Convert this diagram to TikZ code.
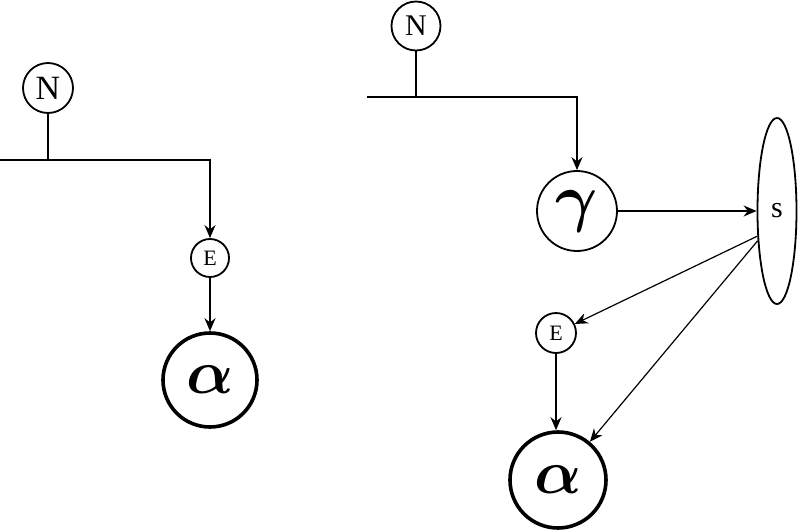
\documentclass[tikz,border=0pt]{standalone}
\usepackage{fontspec}
\usepackage{amsmath}
\setmainfont{Liberation Serif}
\usetikzlibrary{arrows.meta,shapes.geometric}
\tikzset{
  var/.style={circle,draw,inner sep=0pt,line width=0.9pt},
  big/.style={circle,draw,inner sep=0pt,line width=1.8pt,minimum size=48pt},
  >={Stealth[length=6.5pt,width=5.5pt]}
}
\newcommand{\fs}[1]{\fontsize{#1}{#1}\selectfont}
\newcommand{\grk}[2]{\scalebox{#1}{$\boldsymbol{#2}$}}
\begin{document}
\begin{tikzpicture}[x=0.5pt,y=-0.5pt,line width=0.9pt]
\useasboundingbox (0,0) rectangle (800,531);
% left model
\node[var,minimum size=25pt,font=\fs{17}] (nL) at (48,88) {N};
\coordinate (barL) at (0,160);
\node[var,minimum size=19pt,font=\fs{11}] (eL) at (210,258) {E};
\node[big,minimum size=47pt,font=\fs{30}] (aL) at (210,380) {\grk{1.25}{\alpha}};
\draw (nL) -- (nL |- barL);
\draw[->] (barL) -| (eL);
\draw[->] (eL) -- (aL);
% right model
\node[var,minimum size=24.5pt,font=\fs{15}] (nR) at (416,26) {N};
\coordinate (barR) at (367,97);
\node[var,minimum size=40pt,font=\fs{30}] (g) at (577,211) {\grk{1.3}{\gamma}};
\node[ellipse,draw,inner sep=0pt,minimum width=19.5pt,minimum height=93pt,font=\fs{15}] (s) at (777,211) {s};
\node[var,minimum size=20pt,font=\fs{11}] (eR) at (556,333) {E};
\node[big,font=\fs{30}] (aR) at (558,480) {\grk{1.25}{\alpha}};
\draw (nR) -- (nR |- barR);
\draw[->] (barR) -| (g);
\draw[->] (g) -- (s);
\draw[->,line width=0.6pt] (s.232) -- (eR);
\draw[->,line width=0.6pt] (s.237) -- (aR);
\draw[->] (eR) -- (eR |- aR.north);
\end{tikzpicture}
\end{document}
